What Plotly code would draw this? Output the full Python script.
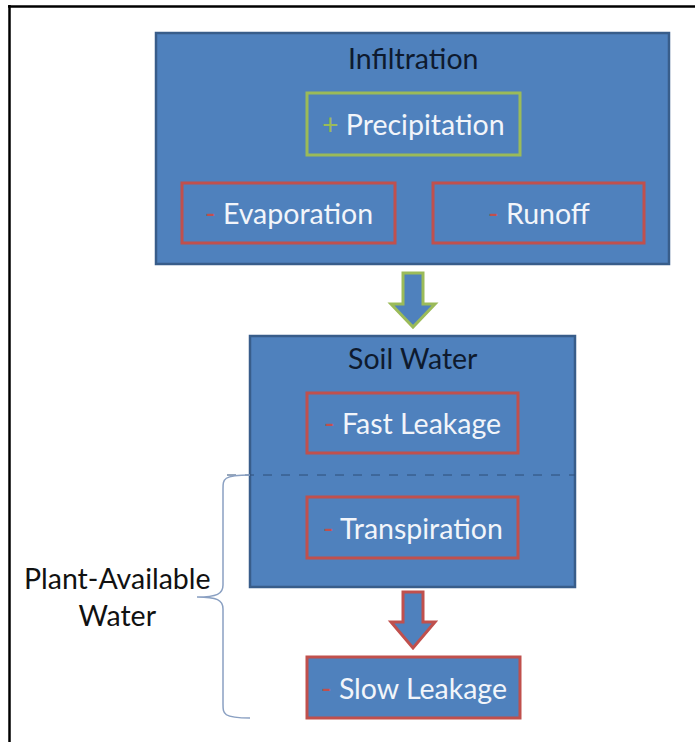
import plotly.graph_objects as go

# ---- content ----
container_titles = ["Infiltration", "Soil Water"]
flow_labels = ["Precipitation", "Evaporation", "Runoff", "Fast Leakage", "Transpiration", "Slow Leakage"]
flow_signs = ["+", "-", "-", "-", "-", "-"]
side_label = "Plant-Available<br>Water"

# ---- geometry (reference pixel space, y downward) ----
W, H = 695, 742
containers = [  # x0, y0, x1, y1
    (156, 33, 669, 264),
    (250, 336, 575, 587),
]
container_title_y = [58, 358]
flow_boxes = [
    (307, 93, 520, 155),
    (182, 183, 395, 243),
    (433, 183, 644, 243),
    (307, 393, 518, 453),
    (307, 497, 518, 558),
    (307, 657, 520, 718),
]
arrows = [  # cx, top, head_base, tip, color
    (413, 273, 304, 327, "#9bbb59"),
    (413, 592, 622, 648, "#c0504d"),
]

BLUE = "#4f81bd"
DARK = "#385d8a"
GREEN = "#9bbb59"
RED = "#c0504d"
FONT = "Lato"
FS = 28.5

shapes = []
annotations = []

# frame (top and left edges)
shapes.append(dict(type="line", x0=8, y0=6.5, x1=W + 5, y1=6.5, line=dict(color="black", width=2.5)))
shapes.append(dict(type="line", x0=9.5, y0=5, x1=9.5, y1=H + 5, line=dict(color="black", width=2.5)))

for (x0, y0, x1, y1), title, ty in zip(containers, container_titles, container_title_y):
    shapes.append(dict(type="rect", x0=x0, y0=y0, x1=x1, y1=y1,
                       fillcolor=BLUE, line=dict(color=DARK, width=2.5)))
    annotations.append(dict(x=(x0 + x1) / 2, y=ty, text=title, showarrow=False,
                            font=dict(family=FONT, size=FS, color="#0e1a2e"),
                            xanchor="center", yanchor="middle"))

for (x0, y0, x1, y1), lab, sg in zip(flow_boxes, flow_labels, flow_signs):
    col = GREEN if sg == "+" else RED
    shapes.append(dict(type="rect", x0=x0, y0=y0, x1=x1, y1=y1,
                       fillcolor=BLUE, line=dict(color=col, width=3)))
    annotations.append(dict(x=(x0 + x1) / 2, y=(y0 + y1) / 2,
                            text=f"<span style='color:{col}'>{sg}</span> {lab}",
                            showarrow=False,
                            font=dict(family=FONT, size=FS, color="#f2f5fa"),
                            xanchor="center", yanchor="middle"))

for cx, top, hb, tip, col in arrows:
    sw, hw = 10, 22
    path = (f"M {cx-sw},{top} L {cx+sw},{top} L {cx+sw},{hb} L {cx+hw},{hb} "
            f"L {cx},{tip} L {cx-hw},{hb} L {cx-sw},{hb} Z")
    shapes.append(dict(type="path", path=path, fillcolor=BLUE, line=dict(color=col, width=3)))

# dashed divider in soil water box
shapes.append(dict(type="line", x0=227, y0=475, x1=575, y1=475,
                   line=dict(color="#2f4f78", width=1, dash="dash")))

# brace
bx_end, bx_mid, bx_tip = 250, 223, 197
y_top, y_mid, y_bot = 475, 597, 718
brace = (f"M {bx_end},{y_top} C {bx_mid},{y_top} {bx_mid},{y_top+4} {bx_mid},{y_top+14} "
         f"L {bx_mid},{y_mid-12} C {bx_mid},{y_mid-3} {bx_mid-6},{y_mid} {bx_tip},{y_mid} "
         f"C {bx_mid-6},{y_mid} {bx_mid},{y_mid+3} {bx_mid},{y_mid+12} "
         f"L {bx_mid},{y_bot-14} C {bx_mid},{y_bot-4} {bx_mid},{y_bot} {bx_end},{y_bot}")
shapes.append(dict(type="path", path=brace, line=dict(color="#8aa0c2", width=1.5)))

annotations.append(dict(x=117, y=596, text=side_label, showarrow=False,
                        font=dict(family=FONT, size=FS, color="#111111"),
                        xanchor="center", yanchor="middle", align="center"))

fig = go.Figure()
fig.update_layout(
    width=W, height=H,
    margin=dict(l=0, r=0, t=0, b=0),
    paper_bgcolor="white", plot_bgcolor="white",
    xaxis=dict(range=[0, W], visible=False, fixedrange=True),
    yaxis=dict(range=[H, 0], visible=False, fixedrange=True),
    shapes=shapes, annotations=annotations, showlegend=False,
)
fig.write_html("out.html", config=dict(displayModeBar=False),
               post_script="document.body.style.margin='0';document.body.style.overflow='hidden';")
